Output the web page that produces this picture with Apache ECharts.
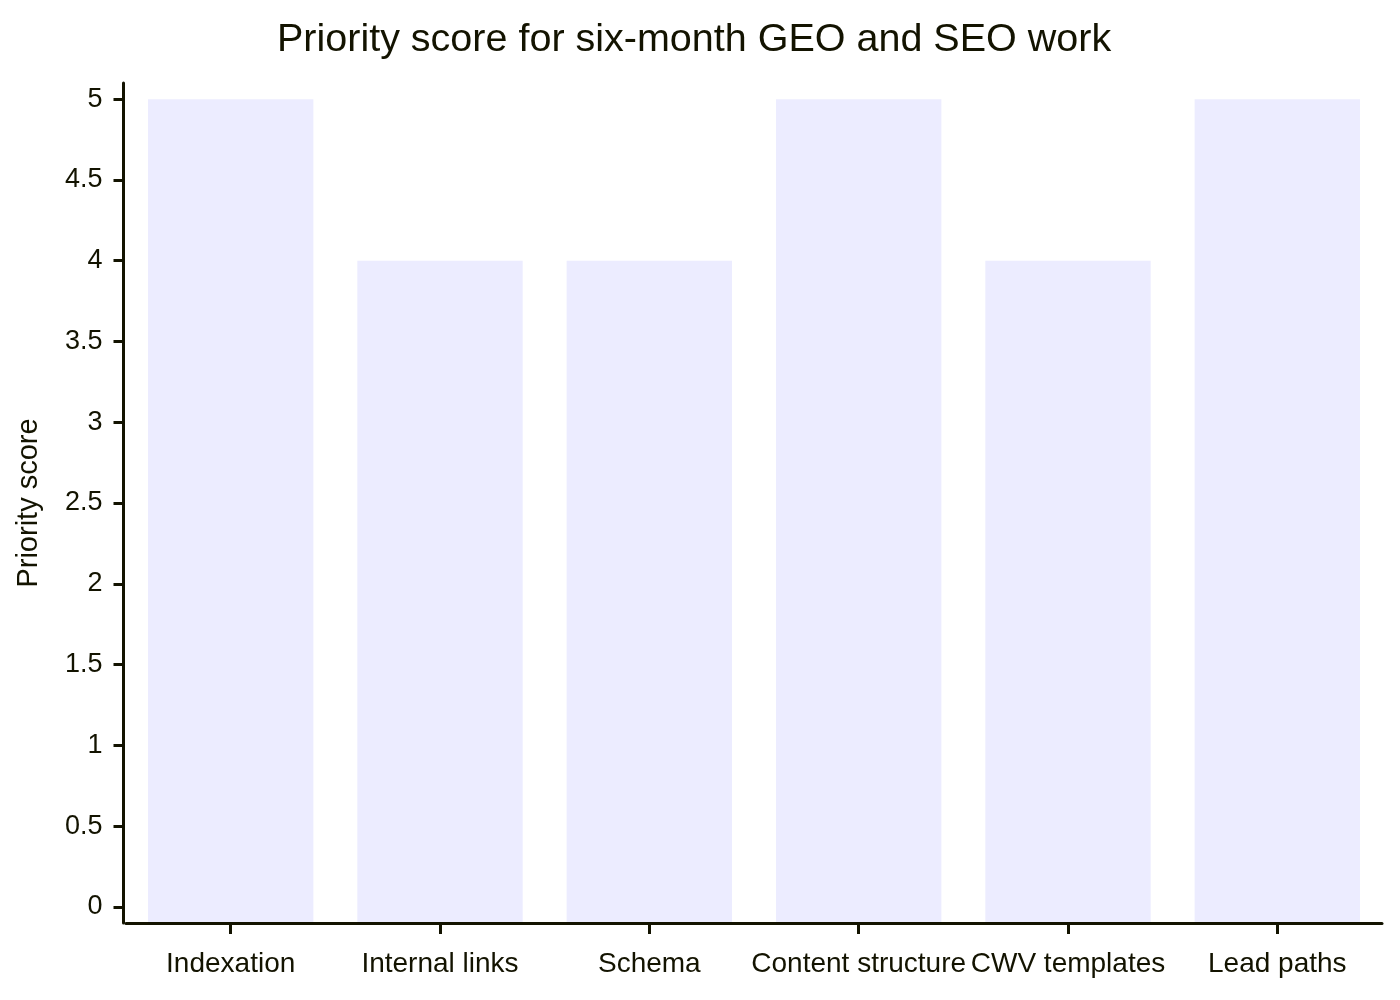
<!DOCTYPE html>
<html>
<head>
<meta charset="utf-8">
<script src="https://cdn.jsdelivr.net/npm/echarts@6/dist/echarts.min.js"></script>
<style>
    html, body { margin: 0; padding: 0; background: #ffffff; }
    #chart { width: 1400px; height: 1000px; }
</style>
</head>
<body>
<div id="chart"></div>
<script>
    // data
    const categories = ["Indexation", "Internal links", "Schema", "Content structure", "CWV templates", "Lead paths"];
    const scores = [5, 4, 4, 5, 4, 5];
    const yTicks = [0, 0.5, 1, 1.5, 2, 2.5, 3, 3.5, 4, 4.5, 5];

    const textColor = "#131300";
    const font = "'Liberation Sans', Arial, sans-serif";

    const chart = echarts.init(document.getElementById("chart"));

    const options = {
        backgroundColor: "#ffffff",
        animation: false,
        title: {
            text: "Priority score for six-month GEO and SEO work",
            left: 272,
            top: 15,
            textStyle: {
                color: textColor,
                fontFamily: font,
                fontWeight: "normal",
                fontSize: 39.5
            }
        },
        grid: {
            left: 126,
            right: 18,
            top: 83,
            bottom: 77
        },
        xAxis: {
            type: "category",
            data: categories,
            z: 3,
            axisLine: {
                onZero: false,
                lineStyle: { color: textColor, width: 3 }
            },
            axisTick: {
                show: true,
                alignWithLabel: true,
                length: 11,
                lineStyle: { color: textColor, width: 3 }
            },
            axisLabel: {
                color: textColor,
                fontFamily: font,
                fontSize: 28,
                margin: 27,
                interval: 0
            },
            splitLine: { show: false }
        },
        yAxis: {
            type: "value",
            min: -0.1,
            max: 5.1,
            startValue: -0.1,
            offset: 2.5,
            z: 3,
            name: "Priority score",
            nameLocation: "middle",
            nameGap: 80,
            nameTextStyle: {
                color: textColor,
                fontFamily: font,
                fontSize: 29
            },
            axisLine: {
                show: true,
                lineStyle: { color: textColor, width: 3 }
            },
            axisTick: {
                show: true,
                length: 10,
                customValues: yTicks,
                lineStyle: { color: textColor, width: 3 }
            },
            axisLabel: {
                color: textColor,
                fontFamily: font,
                fontSize: 27,
                margin: 21,
                customValues: yTicks
            },
            splitLine: { show: false }
        },
        series: [
            {
                type: "bar",
                data: scores,
                barCategoryGap: "21%",
                itemStyle: { color: "#ECECFF" }
            }
        ]
    };

    chart.setOption(options);
</script>
</body>
</html>
